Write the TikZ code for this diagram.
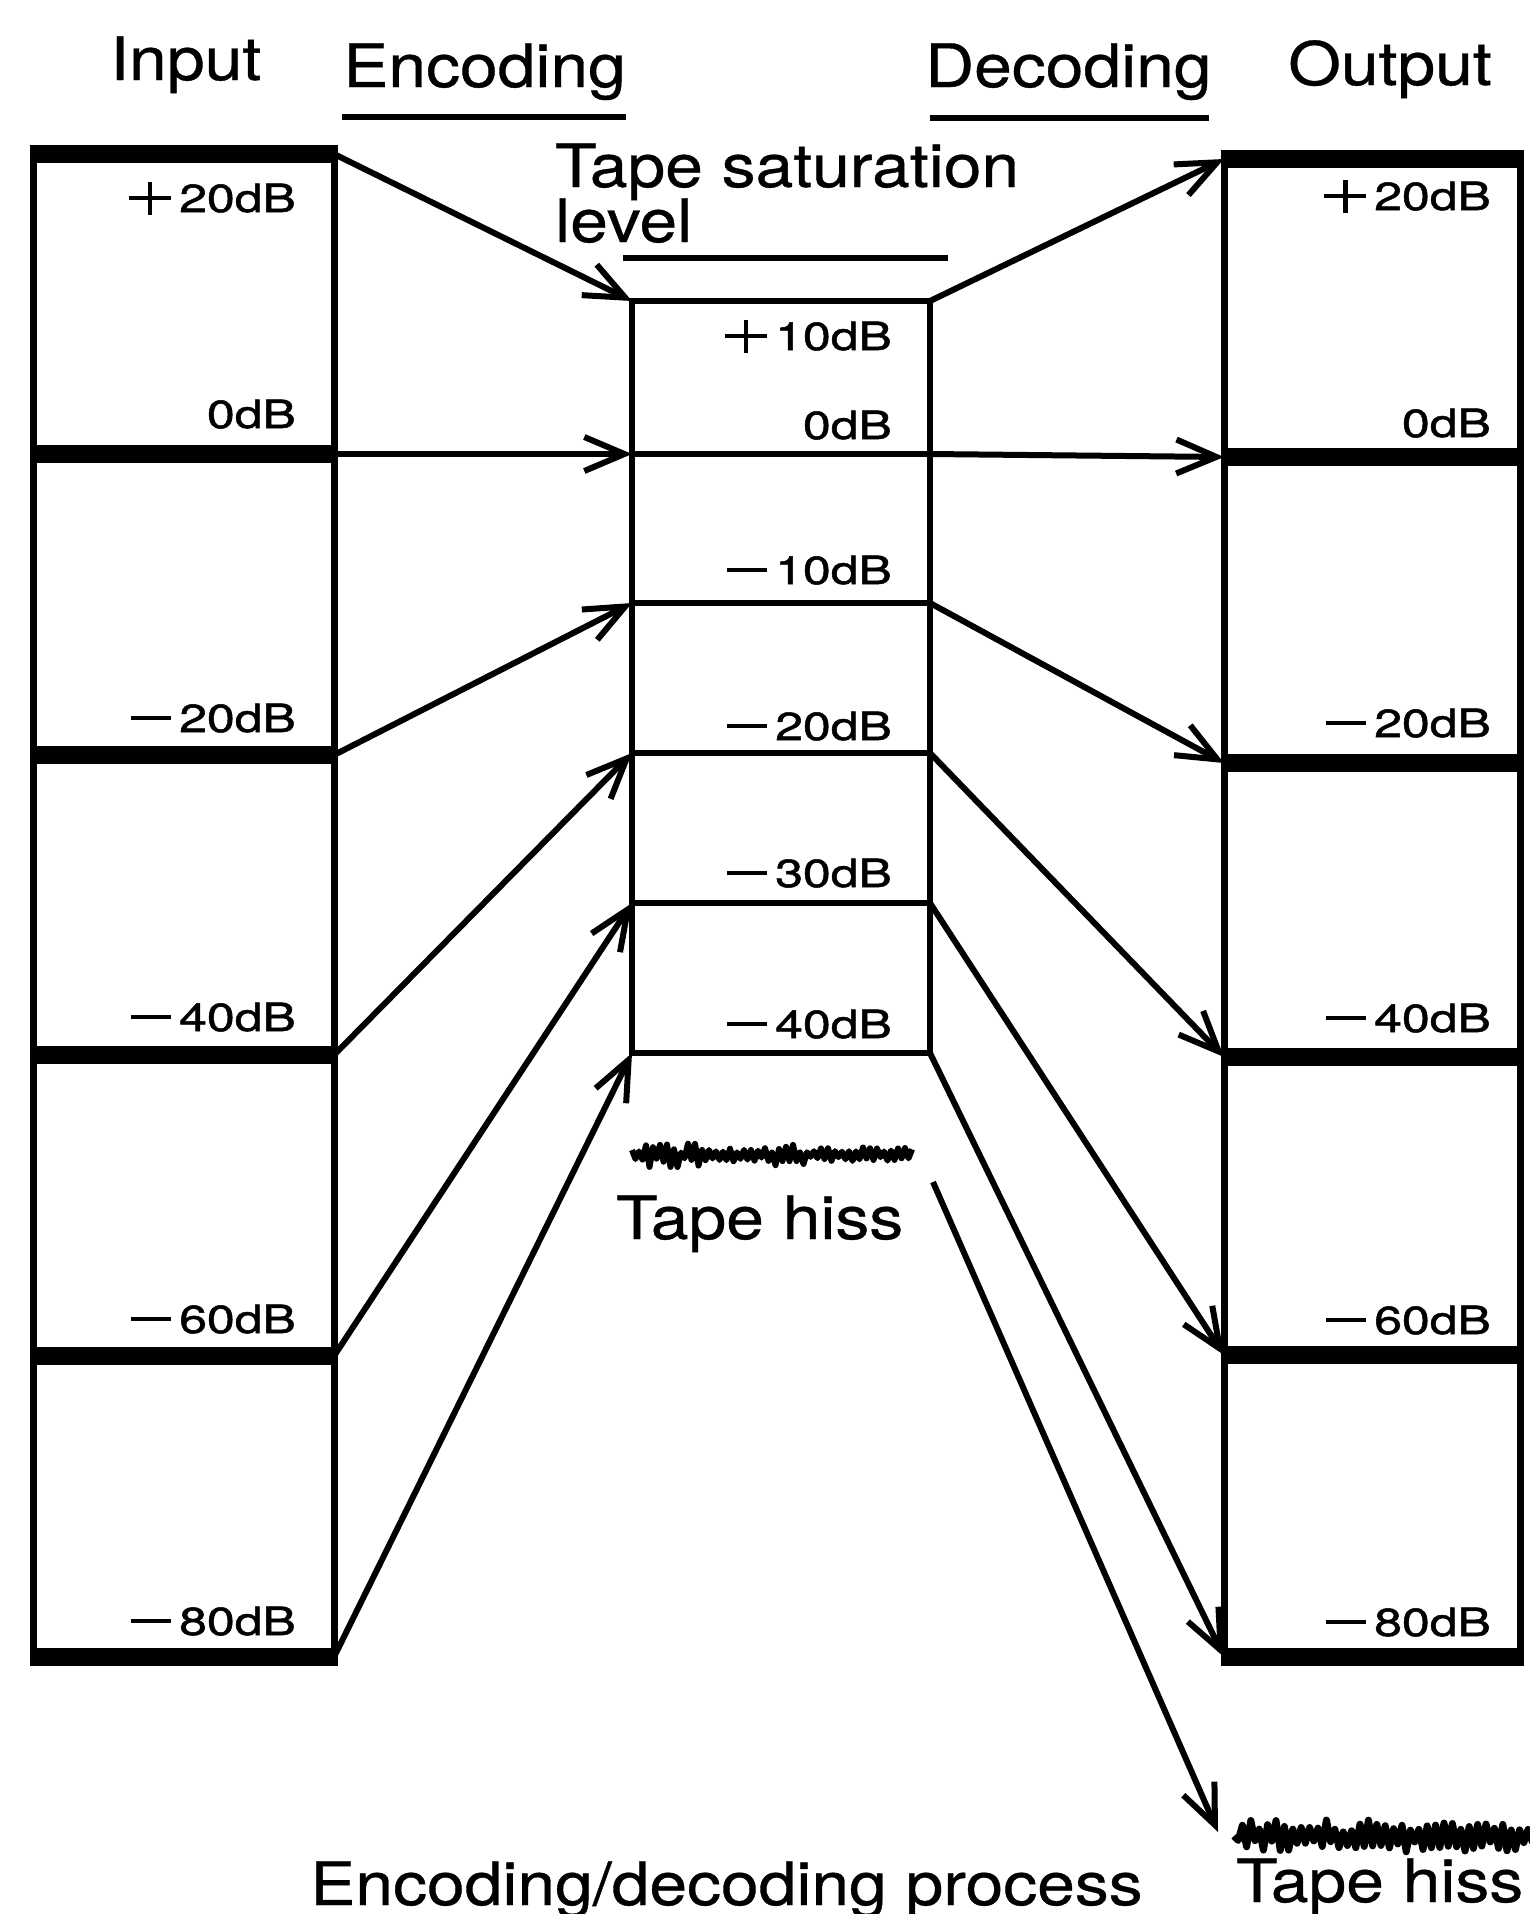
\documentclass[tikz,border=0pt]{standalone}
\usepackage{fontspec}
\setmainfont{TeX Gyre Heros}
\newfontfamily\bigf{TeX Gyre Heros}[FakeStretch=1.13,FakeBold=0.6]
\newfontfamily\lblf{TeX Gyre Heros}[FakeStretch=1.28,FakeBold=1.3]
\usetikzlibrary{arrows.meta}
\newcommand\myminus{\rule[12pt]{40pt}{4.5pt}\kern8pt}
\newcommand\myplus{\rlap{\rule[12pt]{42pt}{4.5pt}}\kern18.75pt\rule[-2.5pt]{4.5pt}{33pt}\kern18.75pt\kern8pt}
\tikzset{
  big/.style={font=\bigf\fontsize{60pt}{58pt}\selectfont, inner sep=0pt, anchor=base west},
  lbl/.style={font=\lblf\fontsize{39pt}{40pt}\selectfont, inner sep=0pt, anchor=base east},
  thk/.style={line width=18pt},
  vline/.style={line width=7pt},
  mline/.style={line width=6pt},
  uline/.style={line width=6pt},
  arr/.style={line width=6pt, -{Straight Barb[length=40pt,width=34pt]}},
  hissline/.style={line width=6pt, line join=round},
}
\begin{document}
\begin{tikzpicture}[x=1pt,y=-1pt]
\useasboundingbox (0,0) rectangle (1530,1914);
\fill[white] (0,0) rectangle (1530,1914);

% ---------- headers ----------
\node[big] (input) at (110,80) {Input};
\node[big] (enc) at (343,87) {Encoding};
\node[big] (dec) at (925,87) {Decoding};
\node[big] (output) at (1288,85) {Output};
\draw[uline] (342,117) -- (626,117);
\draw[uline] (930,118) -- (1209,118);
\node[big] (sat1) at (555,187) {Tape saturation};
\node[big] (sat2) at (555,242) {level};
\draw[uline] (623,258) -- (948,258);

% ---------- left column ----------
\draw[vline] (33,154) -- (33,1657);
\draw[vline] (334,154) -- (334,1657);
\foreach \yy in {154,454,755,1055,1356,1657} \draw[thk] (29.5,\yy) -- (337.5,\yy);
\coordinate (La) at (334,154);
\coordinate (Lb) at (334,454);
\coordinate (Lc) at (334,755);
\coordinate (Ld) at (334,1055);
\coordinate (Le) at (334,1356);
\coordinate (Lf) at (334,1657);
\node[lbl] (l20) at (296,212) {\myplus 20dB};
\node[lbl] (l0) at (296,428) {0dB};
\node[lbl] (lm20) at (296,732) {\myminus 20dB};
\node[lbl] (lm40) at (296,1031) {\myminus 40dB};
\node[lbl] (lm60) at (296,1333) {\myminus 60dB};
\node[lbl] (lm80) at (296,1635) {\myminus 80dB};

% ---------- middle column ----------
\draw[mline] (632,301) -- (632,1053);
\draw[mline] (930,301) -- (930,1053);
\foreach \yy in {301,454,603,753,903,1053} \draw[mline] (629,\yy) -- (933,\yy);
\coordinate (MLa) at (632,301);
\coordinate (MLb) at (632,454);
\coordinate (MLc) at (632,603);
\coordinate (MLd) at (632,753);
\coordinate (MLe) at (632,903);
\coordinate (MLf) at (632,1053);
\coordinate (MRa) at (930,301);
\coordinate (MRb) at (930,454);
\coordinate (MRc) at (930,603);
\coordinate (MRd) at (930,753);
\coordinate (MRe) at (930,903);
\coordinate (MRf) at (930,1053);
\node[lbl] (m10) at (892,350) {\myplus 10dB};
\node[lbl] (m0) at (892,439) {0dB};
\node[lbl] (mm10) at (892,584) {\myminus 10dB};
\node[lbl] (mm20) at (892,740) {\myminus 20dB};
\node[lbl] (mm30) at (892,887) {\myminus 30dB};
\node[lbl] (mm40) at (892,1038) {\myminus 40dB};

% ---------- right column ----------
\draw[vline] (1224,159) -- (1224,1657);
\draw[vline] (1520,159) -- (1520,1657);
\foreach \yy in {159,457,763,1057,1355,1657} \draw[thk] (1220.5,\yy) -- (1524,\yy);
\coordinate (Ra) at (1224,159);
\coordinate (Rb) at (1224,457);
\coordinate (Rc) at (1224,763);
\coordinate (Rd) at (1224,1057);
\coordinate (Re) at (1224,1355);
\coordinate (Rf) at (1224,1657);
\node[lbl] (r20) at (1491,210) {\myplus 20dB};
\node[lbl] (r0) at (1491,437) {0dB};
\node[lbl] (rm20) at (1491,737) {\myminus 20dB};
\node[lbl] (rm40) at (1491,1032) {\myminus 40dB};
\node[lbl] (rm60) at (1491,1334) {\myminus 60dB};
\node[lbl] (rm80) at (1491,1636) {\myminus 80dB};

% ---------- encoding arrows ----------
\draw[arr] (La) -- (MLa);
\draw[arr] (Lb) -- (MLb);
\draw[arr] (Lc) -- (MLc);
\draw[arr] (Ld) -- (MLd);
\draw[arr] (Le) -- (MLe);
\draw[arr] (Lf) -- (MLf);

% ---------- decoding arrows ----------
\draw[arr] (MRa) -- (Ra);
\draw[arr] (MRb) -- (Rb);
\draw[arr] (MRc) -- (Rc);
\draw[arr] (MRd) -- (Rd);
\draw[arr] (MRe) -- (Re);
\draw[arr] (MRf) -- (Rf);

% ---------- tape hiss ----------
\pgfmathsetseed{4711}
\draw[hissline] (632,1150) \foreach \i in {1,...,80} { -- ({632+3.5*\i},{1156-0.03*\i+(2*mod(\i,2)-1)*(2+ifthenelse(\i<22,10,ifthenelse(\i>40,ifthenelse(\i<52,9,5),5))*rnd)}) };
\node[big] (hiss1) at (616,1239) {Tape hiss};
\coordinate (H1) at (933,1182);
\coordinate (H2) at (1218,1832);
\draw[arr] (H1) -- (H2);
\draw[hissline, line width=7pt] (1234,1836) \foreach \i in {1,...,72} { -- ({1234+4.2*\i},{1836+(2*mod(\i,2)-1)*(4+12*rnd)}) };
\node[big] (hiss2) at (1236,1902) {Tape hiss};

\node[big] (process) at (310,1905) {Encoding/decoding process};
\end{tikzpicture}
\end{document}
